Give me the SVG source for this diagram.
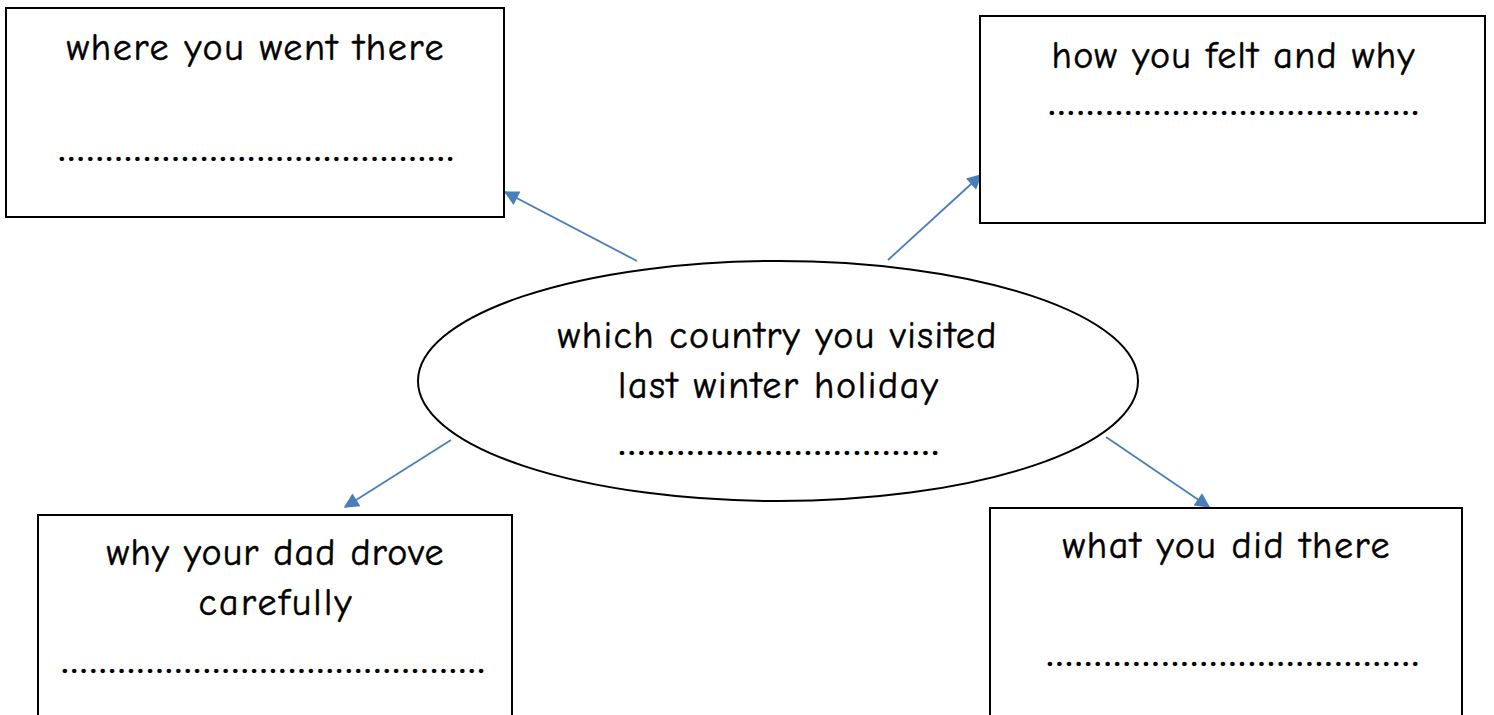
<svg xmlns="http://www.w3.org/2000/svg" width="1494" height="715" viewBox="0 0 1494 715">
<style>
.box{fill:#fff;stroke:#000;stroke-width:2}
.t{font-family:"Comic Sans MS","Comic Neue","Noto Sans",sans-serif;font-size:38px;fill:#000;stroke:#000;stroke-width:0.5}
.d{font-family:"Noto Sans",sans-serif;font-size:30px;fill:#000}
.c{stroke:#4a7ebb;stroke-width:1.8;fill:none;marker-end:url(#ah)}
</style>
<defs>
<marker id="ah" viewBox="0 0 10 10" refX="9" refY="5" markerWidth="18" markerHeight="15" markerUnits="userSpaceOnUse" orient="auto">
<path d="M0,0 L10,5 L0,10 z" fill="#4a7ebb"/>
</marker>
</defs>
<rect width="1494" height="715" fill="#fff"/>
<g id="connectors">
<line class="c" x1="637" y1="261" x2="505" y2="192"/>
<line class="c" x1="888" y1="260" x2="981" y2="175"/>
<line class="c" x1="451" y1="440" x2="345" y2="507"/>
<line class="c" x1="1106" y1="437" x2="1209" y2="507"/>
</g>
<g id="where">
<rect class="box" x="6" y="8" width="498" height="209"/>
<text class="t" x="255" y="60" text-anchor="middle" textLength="377" lengthAdjust="spacing">where you went there</text>
<text class="d" x="57" y="161" textLength="398" lengthAdjust="spacingAndGlyphs">……………………………………</text>
</g>
<g id="felt">
<rect class="box" x="980" y="16" width="505" height="207"/>
<text class="t" x="1233" y="68" text-anchor="middle" textLength="363" lengthAdjust="spacing">how you felt and why</text>
<text class="d" x="1047" y="115" textLength="373" lengthAdjust="spacingAndGlyphs">…………………………………</text>
</g>
<g id="country">
<ellipse cx="778" cy="381" rx="360" ry="120" fill="#fff" stroke="#000" stroke-width="2"/>
<text class="t" x="777" y="348" text-anchor="middle" textLength="439" lengthAdjust="spacing">which country you visited</text>
<text class="t" x="778" y="398" text-anchor="middle" textLength="320" lengthAdjust="spacing">last winter holiday</text>
<text class="d" x="617" y="455" textLength="323" lengthAdjust="spacingAndGlyphs">……………………………</text>
</g>
<g id="dad">
<rect class="box" x="38" y="515" width="474" height="215"/>
<text class="t" x="275" y="565" text-anchor="middle" textLength="337" lengthAdjust="spacing">why your dad drove</text>
<text class="t" x="275" y="615" text-anchor="middle" textLength="153" lengthAdjust="spacing">carefully</text>
<text class="d" x="60" y="673" textLength="426" lengthAdjust="spacingAndGlyphs">………………………………………</text>
</g>
<g id="did">
<rect class="box" x="990" y="508" width="472" height="222"/>
<text class="t" x="1226" y="558" text-anchor="middle" textLength="327" lengthAdjust="spacing">what you did there</text>
<text class="d" x="1045" y="666" textLength="375" lengthAdjust="spacingAndGlyphs">…………………………………</text>
</g>
</svg>
